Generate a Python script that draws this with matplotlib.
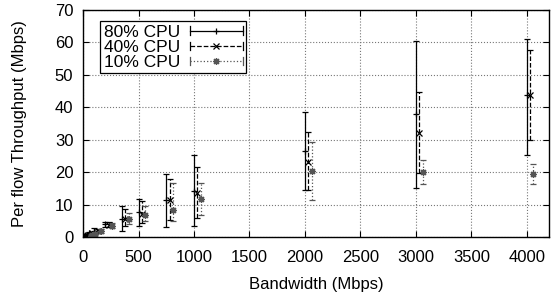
import matplotlib
matplotlib.use("Agg")
import matplotlib.pyplot as plt
from matplotlib.lines import Line2D
from matplotlib.legend_handler import HandlerBase

plt.rcParams['font.family'] = ['Liberation Sans', 'DejaVu Sans']
plt.rcParams['font.size'] = 12

# bandwidth points (Mbps)
bandwidth = [10, 20, 50, 100, 200, 350, 500, 750, 1000, 2000, 3000, 4000]

# 80% CPU: mean, min, max
cpu80_mean = [0.3, 0.6, 1.2, 2.0, 3.9, 5.7, 7.6, 11.3, 14.1, 26.5, 37.9, 43.8]
cpu80_low  = [0.1, 0.3, 0.8, 1.4, 3.0, 1.9, 3.3, 3.1, 3.4, 14.6, 15.1, 25.4]
cpu80_high = [0.5, 0.9, 1.6, 2.7, 4.8, 9.7, 11.7, 19.4, 25.3, 38.5, 60.5, 61.0]

# 40% CPU
cpu40_mean = [0.3, 0.6, 1.2, 2.0, 3.8, 5.5, 7.0, 11.5, 13.6, 23.2, 32.2, 43.8]
cpu40_low  = [0.1, 0.3, 0.8, 1.4, 3.0, 3.3, 4.2, 5.4, 5.9, 14.4, 19.7, 30.0]
cpu40_high = [0.5, 0.9, 1.6, 2.6, 4.6, 8.8, 11.0, 17.9, 21.5, 32.4, 44.8, 57.8]

# 10% CPU
cpu10_mean = [0.3, 0.6, 1.1, 1.9, 3.5, 5.6, 6.8, 8.5, 11.7, 20.4, 20.0, 19.4]
cpu10_low  = [0.1, 0.3, 0.7, 1.3, 2.8, 4.0, 5.0, 5.1, 6.7, 11.5, 16.5, 16.4]
cpu10_high = [0.5, 0.9, 1.5, 2.5, 4.3, 7.5, 9.5, 16.6, 16.6, 29.4, 23.8, 22.6]

series = [
    # label, mean, low, high, x offset, linestyle, marker, colour
    ("80% CPU", cpu80_mean, cpu80_low, cpu80_high, 0, '-', '+', 'black'),
    ("40% CPU", cpu40_mean, cpu40_low, cpu40_high, 30, '--', 'x', 'black'),
    ("10% CPU", cpu10_mean, cpu10_low, cpu10_high, 60, ':', (8, 2, 0), '#555555'),
]


class CapLineHandler(HandlerBase):
    # gnuplot style key sample: horizontal line, caps at the ends, marker in the middle
    def create_artists(self, legend, orig, xdescent, ydescent, width, height, fontsize, trans):
        y = (height - ydescent) / 2.0
        x0, x1 = -xdescent, -xdescent + width
        c = orig.get_color()
        line = Line2D([x0, x1], [y, y], ls=orig.get_linestyle(), color=c, lw=0.9)
        cap0 = Line2D([x0, x0], [y - 3, y + 3], color=c, lw=0.9)
        cap1 = Line2D([x1, x1], [y - 3, y + 3], color=c, lw=0.9)
        mark = Line2D([(x0 + x1) / 2], [y], ls='none', marker=orig.get_marker(),
                      color=c, markersize=5, mew=0.9)
        arts = [line, cap0, cap1, mark]
        for a in arts:
            a.set_transform(trans)
        return arts


fig = plt.figure(figsize=(5.54, 2.96), dpi=100)
ax = fig.add_axes([0.150, 0.199, 0.841, 0.767])

handles = []
for label, mean, low, high, off, ls, mk, col in series:
    xs = [b + off for b in bandwidth]
    yerr = [[m - l for m, l in zip(mean, low)], [h - m for m, h in zip(mean, high)]]
    eb = ax.errorbar(xs, mean, yerr=yerr, fmt='none', ecolor=col, elinewidth=0.9,
                     capsize=2.2, capthick=0.9)
    eb[2][0].set_linestyle(ls)
    ax.plot(xs, mean, ls='none', marker=mk, color=col, markersize=5, mew=0.9)
    handles.append(Line2D([], [], ls=ls, marker=mk, color=col, label=label))

ax.set_xlim(0, 4200)
ax.set_ylim(0, 70)
ax.set_xticks(range(0, 4001, 500))
ax.set_yticks(range(0, 71, 10))
ax.tick_params(direction='in', top=True, right=True, length=4, width=0.8)
ax.tick_params(axis='x', pad=9)
ax.tick_params(axis='y', pad=7)
ax.grid(True, ls=':', color='#777777', lw=0.8)
ax.set_axisbelow(True)
for s in ax.spines.values():
    s.set_linewidth(1.0)

ax.set_xlabel("Bandwidth (Mbps)", labelpad=9)
ax.set_ylabel("Per flow Throughput (Mbps)", labelpad=20)

leg = ax.legend(handles=handles, loc='upper left', bbox_to_anchor=(0.018, 0.99),
                markerfirst=False, handlelength=3.0, handletextpad=0.6,
                borderpad=0.2, labelspacing=0.0, fancybox=False, framealpha=1,
                edgecolor='black', fontsize=12.5,
                handler_map={Line2D: CapLineHandler()})
leg.get_frame().set_linewidth(0.9)

fig.savefig("out.png", dpi=100)
